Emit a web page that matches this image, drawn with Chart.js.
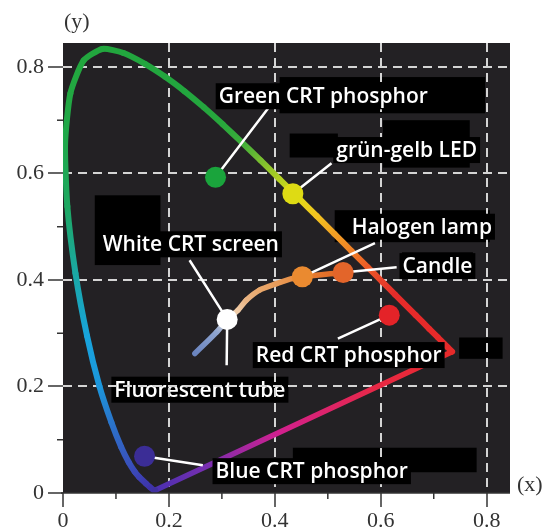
<!DOCTYPE html>
<html><head><meta charset="utf-8">
<script src="https://cdn.jsdelivr.net/npm/chart.js@4/dist/chart.umd.min.js"></script>
<style>html,body{margin:0;padding:0;background:#fff}#wrap{width:546px;height:530px;position:relative}canvas{display:block}</style>
</head><body><div id="wrap"><canvas id="c" width="546" height="530"></canvas></div>
<script>
// ---- DATA ----
// Spectral locus (wavelength nm, x, y)
const locusWavelengths = [380, 420, 440, 450, 460, 465, 470, 475, 480, 485, 490, 495, 500, 505, 510, 515, 520, 525, 530, 535, 540, 545, 550, 555, 560, 565, 570, 575, 580, 585, 590, 595, 600, 610, 620, 630, 640, 650, 700];
const locusX = [0.1741, 0.1714, 0.1644, 0.1566, 0.1440, 0.1355, 0.1241, 0.1096, 0.0913, 0.0687, 0.0454, 0.0235, 0.0082, 0.0039, 0.0139, 0.0389, 0.0743, 0.1142, 0.1547, 0.1929, 0.2296, 0.2658, 0.3016, 0.3373, 0.3731, 0.4087, 0.4441, 0.4788, 0.5125, 0.5448, 0.5752, 0.6029, 0.6270, 0.6658, 0.6915, 0.7079, 0.7190, 0.7260, 0.7347];
const locusY = [0.0050, 0.0051, 0.0109, 0.0177, 0.0297, 0.0399, 0.0578, 0.0868, 0.1327, 0.2007, 0.2950, 0.4127, 0.5384, 0.6548, 0.7502, 0.8120, 0.8338, 0.8262, 0.8059, 0.7816, 0.7543, 0.7243, 0.6923, 0.6589, 0.6245, 0.5896, 0.5547, 0.5202, 0.4866, 0.4544, 0.4242, 0.3965, 0.3725, 0.3340, 0.3083, 0.2920, 0.2809, 0.2740, 0.2653];

// Planckian (black body) curve from blue end through white to candle
const planckX = [0.249, 0.290, 0.310, 0.330, 0.346, 0.371, 0.403, 0.434, 0.452, 0.529];
const planckY = [0.262, 0.302, 0.326, 0.343, 0.362, 0.381, 0.393, 0.403, 0.406, 0.414];

// Light sources (points)
const sourceNames = ['Green CRT phosphor', 'grün-gelb LED', 'Halogen lamp', 'Candle', 'Red CRT phosphor', 'White CRT screen', 'Blue CRT phosphor'];
const sourceX = [0.288, 0.434, 0.452, 0.529, 0.616, 0.310, 0.154];
const sourceY = [0.593, 0.562, 0.406, 0.414, 0.334, 0.326, 0.069];

// Callout texts, which point each refers to, and where the leader line ends (data units)
const labelTexts = ['Green CRT phosphor', 'grün-gelb LED', 'Halogen lamp', 'Candle', 'Red CRT phosphor', 'White CRT screen', 'Fluorescent tube', 'Blue CRT phosphor'];
const labelSource = [0, 1, 2, 3, 4, 5, 5, 6];
const leaderEndX = [0.387, 0.507, 0.589, 0.630, 0.519, 0.239, 0.309, 0.264];
const leaderEndY = [0.722, 0.619, 0.469, 0.424, 0.290, 0.437, 0.240, 0.052];
const labelAnchorX = [0.294, 0.516, 0.545, 0.641, 0.364, 0.075, 0.097, 0.288];
const labelAnchorY = [0.745, 0.644, 0.500, 0.426, 0.259, 0.467, 0.194, 0.041];

// Axis ticks
const majorTicks = [0, 0.2, 0.4, 0.6, 0.8];
const tickLabels = ['0', '0.2', '0.4', '0.6', '0.8'];
const minorTicks = [0.1, 0.3, 0.5, 0.7];

// ---- STYLES ----
const locusColors = ['#40309f', '#40309f', '#3e32a8', '#3d38ae', '#3c40b4', '#3a48b8', '#3852bc', '#3360c2', '#2a74ca', '#1c96dc', '#18a4dc', '#1aa8a4', '#1ea862', '#20a84c', '#22a842', '#22a63e', '#22a63e', '#22a63e', '#22a63e', '#22a63e', '#22a63e', '#24a63e', '#28a83c', '#3cae3a', '#78be30', '#b2cf22', '#e2dc18', '#f2c420', '#f2a024', '#f08026', '#ec5a26', '#e8402a', '#e62c2a', '#e62a2a', '#e62a2a', '#e62a2a', '#e62a2a', '#e62a2a', '#e62a2a'];
const planckColors = ['#6a84bf', '#8ea4cf', '#e6e0da', '#f0cba6', '#eab584', '#e8a86c', '#e89c5a', '#e89046', '#e88232', '#e06424'];
const pointColors = ['#1aa43c', '#dedb14', '#ea8a30', '#e3652a', '#e42328', '#ffffff', '#3b2d96'];
const labelUnderGrid = [false, false, false, false, false, false, true, false];
// decorative black patches of the original figure [x1, y1, x2, y2] in data units
const maskBoxes = [[0.060, 0.559, 0.184, 0.428], [0.409, 0.781, 0.797, 0.713], [0.428, 0.675, 0.519, 0.630], [0.604, 0.700, 0.768, 0.611], [0.513, 0.531, 0.806, 0.471], [0.640, 0.452, 0.774, 0.413], [0.434, 0.085, 0.781, 0.039], [0.748, 0.292, 0.830, 0.252]];

const BG = '#232124';
const LABEL_FONT = '600 21px "Open Sans"';
const AXIS_FONT = '22px "Liberation Serif"';

// ---- BUILD ----
const locusPts = locusX.map((x, i) => ({x, y: locusY[i]}));
const purplePts = [{x: locusX[locusX.length - 1], y: locusY[locusY.length - 1]}, {x: locusX[0], y: locusY[0]}];
const planckPts = planckX.map((x, i) => ({x, y: planckY[i]}));
const sourcePts = sourceX.map((x, i) => ({x, y: sourceY[i]}));
const leaderPts = [];
labelTexts.forEach((t, i) => {
  const s = labelSource[i];
  leaderPts.push({x: sourceX[s], y: sourceY[s]}, {x: leaderEndX[i], y: leaderEndY[i]}, {x: leaderEndX[i], y: null});
});

function segGradient(colors) {
  return c => {
    const g = c.chart.ctx.createLinearGradient(c.p0.x, c.p0.y, c.p1.x, c.p1.y);
    g.addColorStop(0, colors[c.p0DataIndex]);
    g.addColorStop(1, colors[c.p1DataIndex]);
    return g;
  };
}

function drawLabel(chart, i) {
  const ctx = chart.ctx, xs = chart.scales.x, ys = chart.scales.y;
  const x = xs.getPixelForValue(labelAnchorX[i]);
  const y = ys.getPixelForValue(labelAnchorY[i]);
  ctx.save();
  ctx.font = LABEL_FONT;
  ctx.textBaseline = 'middle';
  ctx.textAlign = 'left';
  const w = ctx.measureText(labelTexts[i]).width;
  ctx.fillStyle = '#000';
  ctx.fillRect(x - 3, y - 13, w + 6, 26);
  ctx.shadowColor = 'rgba(0,0,0,0.9)';
  ctx.shadowBlur = 3;
  ctx.fillStyle = '#ffffff';
  ctx.fillText(labelTexts[i], x, y + 1);
  ctx.restore();
}

const deco = {
  id: 'deco',
  beforeDraw(chart) {
    const {ctx, chartArea: a, scales: {x: xs, y: ys}} = chart;
    ctx.save();
    ctx.fillStyle = BG;
    ctx.fillRect(a.left, a.top, a.right - a.left, a.bottom - a.top);
    ctx.fillStyle = '#000';
    maskBoxes.forEach(b => {
      const x1 = xs.getPixelForValue(b[0]), y1 = ys.getPixelForValue(b[1]);
      const x2 = xs.getPixelForValue(b[2]), y2 = ys.getPixelForValue(b[3]);
      ctx.fillRect(x1, y1, x2 - x1, y2 - y1);
    });
    ctx.restore();
    labelTexts.forEach((t, i) => { if (labelUnderGrid[i]) drawLabel(chart, i); });
  },
  afterDatasetsDraw(chart) {
    labelTexts.forEach((t, i) => { if (!labelUnderGrid[i]) drawLabel(chart, i); });
  },
  afterDraw(chart) {
    const {ctx, chartArea: a, scales: {x: xs, y: ys}} = chart;
    ctx.save();
    ctx.strokeStyle = '#333';
    ctx.lineWidth = 1.5;
    ctx.beginPath(); ctx.moveTo(a.left - 2, a.bottom); ctx.lineTo(a.right, a.bottom); ctx.stroke();
    minorTicks.forEach(v => {
      const px = xs.getPixelForValue(v);
      ctx.beginPath(); ctx.moveTo(px, a.bottom); ctx.lineTo(px, a.bottom + 6); ctx.stroke();
      const py = ys.getPixelForValue(v);
      ctx.beginPath(); ctx.moveTo(a.left - 6, py); ctx.lineTo(a.left, py); ctx.stroke();
    });
    ctx.fillStyle = '#333';
    ctx.font = AXIS_FONT;
    ctx.textBaseline = 'middle';
    ctx.textAlign = 'left';
    ctx.fillText('(y)', a.left + 1, a.top - 21);
    ctx.fillText('(x)', a.right + 7, a.bottom - 8);
    ctx.restore();
  }
};

const axisCommon = (isX) => ({
  type: 'linear',
  min: 0,
  max: isX ? 0.844 : 0.845,
  afterBuildTicks: s => { s.ticks = majorTicks.map(v => ({value: v})); },
  afterFit: s => { if (isX) s.height = 37; else s.width = 63; },
  ticks: {
    callback: (v, i) => tickLabels[i],
    font: {family: 'Liberation Serif', size: 22},
    color: '#333',
    padding: isX ? 1 : 4,
    autoSkip: false,
    maxRotation: 0
  },
  grid: {
    color: c => (c.tick && c.tick.value > 0 ? '#d4d4d4' : 'rgba(0,0,0,0)'),
    lineWidth: 2,
    drawTicks: true,
    tickLength: isX ? 14 : 15,
    tickColor: '#333',
    tickWidth: 1.5,
    tickBorderDash: []
  },
  border: {display: false, dash: [9, 6], dashOffset: 0}
});

new Chart(document.getElementById('c'), {
  type: 'scatter',
  data: {
    datasets: [
      { type: 'line', data: sourcePts, showLine: false, pointRadius: 10.5, pointHoverRadius: 10.5,
        pointBackgroundColor: pointColors, pointBorderWidth: 0, order: 1 },
      { type: 'line', data: leaderPts, borderColor: '#ffffff', borderWidth: 2.5, pointRadius: 0,
        spanGaps: false, tension: 0, order: 2 },
      { type: 'line', data: planckPts, borderWidth: 5.5, pointRadius: 0, tension: 0.3,
        borderCapStyle: 'round', borderJoinStyle: 'round',
        segment: {borderColor: segGradient(planckColors)}, order: 3 },
      { type: 'line', data: locusPts, borderWidth: 6, pointRadius: 0, tension: 0.2,
        borderCapStyle: 'round', borderJoinStyle: 'round',
        segment: {borderColor: segGradient(locusColors)}, order: 4 },
      { type: 'line', data: purplePts, borderWidth: 5.5, pointRadius: 0, tension: 0,
        borderCapStyle: 'round', order: 5,
        borderColor: c => {
          const ch = c.chart;
          if (!ch.chartArea) return '#c02080';
          const xs = ch.scales.x, ys = ch.scales.y;
          const g = ch.ctx.createLinearGradient(
            xs.getPixelForValue(purplePts[1].x), ys.getPixelForValue(purplePts[1].y),
            xs.getPixelForValue(purplePts[0].x), ys.getPixelForValue(purplePts[0].y));
          g.addColorStop(0, '#4a30b0');
          g.addColorStop(0.18, '#7a2eb0');
          g.addColorStop(0.42, '#d2208e');
          g.addColorStop(0.75, '#e82844');
          g.addColorStop(1, '#e82a2a');
          return g;
        } }
    ]
  },
  options: {
    responsive: false,
    animation: false,
    events: [],
    layout: {padding: {top: 43, right: 36, left: 0, bottom: 0}},
    plugins: {legend: {display: false}, tooltip: {enabled: false}},
    scales: { x: axisCommon(true), y: axisCommon(false) }
  },
  plugins: [deco]
});
</script>
</body></html>
